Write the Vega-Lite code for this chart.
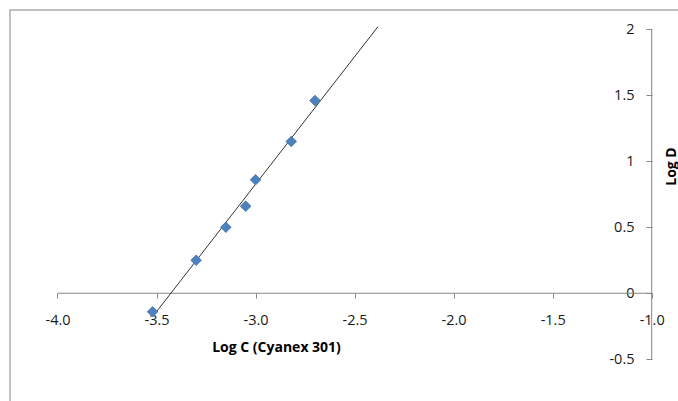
{
  "$schema": "https://vega.github.io/schema/vega-lite/v6.json",
  "width": 678,
  "height": 401,
  "autosize": {"type": "none"},
  "padding": {"left": 10, "top": 10, "right": 0, "bottom": 0},
  "background": "white",
  "config": {
    "view": {"stroke": "#acacac", "strokeWidth": 1.5},
    "font": "Open Sans",
    "locale": {"number": {"decimal": ".", "thousands": ",", "grouping": [3], "currency": ["$", ""], "minus": "-"}},
    "axis": {
      "grid": false,
      "domain": false,
      "tickColor": "#868686",
      "tickSize": 5,
      "labelFont": "Open Sans",
      "labelFontSize": 14.5,
      "labelColor": "#1a1a1a",
      "titleFont": "Open Sans",
      "titleFontSize": 14,
      "titleFontWeight": "bold",
      "titleColor": "#000000"
    }
  },
  "datasets": {
    "points": [
      {"logC": -3.52, "logD": -0.14},
      {"logC": -3.30, "logD": 0.25},
      {"logC": -3.15, "logD": 0.50},
      {"logC": -3.05, "logD": 0.66},
      {"logC": -3.00, "logD": 0.86},
      {"logC": -2.82, "logD": 1.15},
      {"logC": -2.70, "logD": 1.46}
    ],
    "axislines": [
      {"a": -4, "b": -1, "c": 0, "d": 0},
      {"a": -1, "b": -1, "c": -0.5, "d": 2}
    ]
  },
  "layer": [
    {
      "data": {"name": "points"},
      "mark": {"type": "point", "filled": true, "shape": "diamond", "size": 125, "color": "#4f81bd", "opacity": 1},
      "encoding": {
        "x": {
          "field": "logC", "type": "quantitative",
          "scale": {"domain": [-4.2398, -0.8167], "nice": false, "zero": false},
          "axis": {
            "orient": "bottom", "offset": -118,
            "values": [-4, -3.5, -3, -2.5, -2, -1.5, -1],
            "format": ".1f", "labelPadding": 15,
            "title": "Log C (Cyanex 301)",
            "titleX": 266, "titleY": 54, "titleBaseline": "middle", "titleAlign": "center"
          }
        },
        "y": {
          "field": "logD", "type": "quantitative",
          "scale": {"domain": [-0.892, 2.146], "nice": false, "zero": false},
          "axis": {
            "orient": "left", "offset": -642,
            "values": [-0.5, 0, 0.5, 1, 1.5, 2],
            "format": ".1~f",
            "tickSize": 6, "labelPadding": 12,
            "title": "Log D",
            "titleX": 19, "titleY": 156, "titleAngle": -90, "titleBaseline": "middle", "titleAlign": "center"
          }
        }
      }
    },
    {
      "data": {"name": "axislines"},
      "mark": {"type": "rule", "color": "#868686", "strokeWidth": 1},
      "encoding": {
        "x": {"field": "a", "type": "quantitative"},
        "x2": {"field": "b"},
        "y": {"field": "c", "type": "quantitative"},
        "y2": {"field": "d"}
      }
    },
    {
      "data": {"name": "points"},
      "transform": [{"regression": "logD", "on": "logC", "extent": [-3.515, -2.382]}],
      "mark": {"type": "line", "color": "#333333", "strokeWidth": 1},
      "encoding": {
        "x": {"field": "logC", "type": "quantitative"},
        "y": {"field": "logD", "type": "quantitative"}
      }
    },
    {
      "data": {"name": "points"},
      "mark": {"type": "point", "filled": true, "shape": "diamond", "size": 125, "color": "#4f81bd", "opacity": 1},
      "encoding": {
        "x": {"field": "logC", "type": "quantitative"},
        "y": {"field": "logD", "type": "quantitative"}
      }
    }
  ]
}
